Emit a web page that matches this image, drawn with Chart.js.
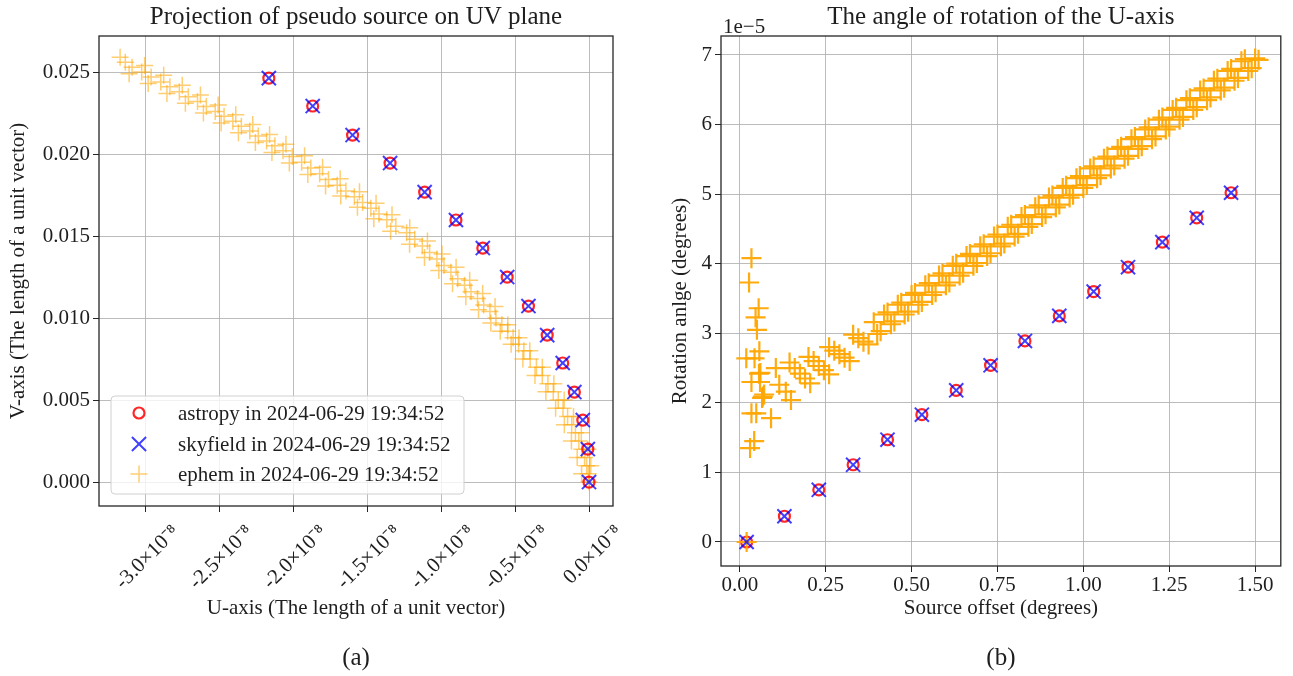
<!DOCTYPE html>
<html>
<head>
<meta charset="utf-8">
<script src="https://cdn.jsdelivr.net/npm/chart.js@4.4.0/dist/chart.umd.min.js"></script>
<style>
body{margin:0;background:#fff;width:1293px;height:676px;overflow:hidden;position:relative}
.box{position:absolute;top:0;height:676px}
#wa{left:0;width:650px}
#wb{left:650px;width:643px}
</style>
</head>
<body>
<div class="box" id="wa"><canvas id="chart-a"></canvas></div>
<div class="box" id="wb"><canvas id="chart-b"></canvas></div>
<script>
// ===== data, panel (a): U in units of 1e-8 =====
const U_TICKS=[-3.0,-2.5,-2.0,-1.5,-1.0,-0.5,0.0];
const V_TICKS=[0,0.005,0.010,0.015,0.020,0.025];
const ASTROPY_U=[0,-0.008,-0.042,-0.099,-0.178,-0.283,-0.410,-0.554,-0.719,-0.901,-1.113,-1.347,-1.601,-1.871,-2.168];
const ASTROPY_V=[0,0.00201,0.00378,0.00549,0.00726,0.00896,0.01073,0.01250,0.01427,0.01598,0.01768,0.01945,0.02116,0.02293,0.02463];
const SKYFIELD_U=[0,-0.008,-0.042,-0.099,-0.178,-0.283,-0.410,-0.554,-0.719,-0.901,-1.113,-1.347,-1.601,-1.871,-2.168];
const SKYFIELD_V=[0,0.00201,0.00378,0.00549,0.00726,0.00896,0.01073,0.01250,0.01427,0.01598,0.01768,0.01945,0.02116,0.02293,0.02463];
const EPHEM_UV=[
 [0,0],[-0.005,0.0005],[-0.016,0.0010],[-0.030,0.0015],[-0.048,0.0020],[-0.069,0.0025],[-0.092,0.0030],[-0.117,0.0035],
 [-0.145,0.0040],[-0.176,0.0045],[-0.208,0.0050],[-0.242,0.0055],[-0.278,0.0060],[-0.316,0.0065],[-0.356,0.0070],[-0.398,0.0075],
 [-0.441,0.0080],[-0.477,0.0084],[-0.514,0.0088],[-0.551,0.0092],[-0.590,0.0096],[-0.630,0.0100],[-0.671,0.0104],[-0.713,0.0108],
 [-0.755,0.0112],[-0.799,0.0116],[-0.843,0.0120],[-0.889,0.0124],[-0.935,0.0128],[-0.982,0.0132],[-1.030,0.0136],[-1.079,0.0140],
 [-1.129,0.0144],[-1.180,0.0148],[-1.235,0.0152],[-1.308,0.0156],[-1.369,0.0160],[-1.422,0.01635],[-1.477,0.0167],[-1.533,0.01705],
 [-1.589,0.0174],[-1.646,0.01775],[-1.705,0.0181],[-1.764,0.01845],[-1.824,0.0188],[-1.884,0.01915],[-1.946,0.0195],[-2.009,0.01985],
 [-2.072,0.0202],[-2.127,0.0205],[-2.183,0.0208],[-2.239,0.0211],[-2.297,0.0214],[-2.354,0.0217],[-2.412,0.0220],[-2.471,0.0223],
 [-2.531,0.0226],[-2.591,0.0229],[-2.651,0.0232],[-2.713,0.0235],[-2.774,0.0238],[-2.838,0.0241],[-2.900,0.0244],[-2.965,0.0247],
 [-3.029,0.0250],[-3.094,0.0253],[-3.140,0.0256],[-3.175,0.0259],
 [-0.050,0.0005],[-0.080,0.0015],[-0.119,0.0025],[-0.167,0.0035],[-0.226,0.0045],[-0.292,0.0055],[-0.366,0.0065],[-0.448,0.0075],
 [-0.527,0.0084],[-0.601,0.0092],[-0.665,0.0097],[-0.748,0.0105],[-0.834,0.0113],[-0.924,0.0121],[-1.017,0.0129],[-1.114,0.0137],
 [-1.215,0.0145],[-1.343,0.0153],[-1.457,0.01605],[-1.568,0.01675],[-1.681,0.01745],[-1.784,0.01805],[-1.904,0.01875],[-2.029,0.01945],
 [-2.147,0.0201],[-2.259,0.0207],[-2.374,0.0213],[-2.491,0.0219],[-2.611,0.0225],[-2.733,0.0231],[-2.858,0.0237],[-2.985,0.0243],[-3.114,0.0249],
 [0.012,0.0010],[-0.008,0.0020],[-0.052,0.0030],[-0.105,0.0040],[-0.168,0.0050],[-0.238,0.0060],[-0.316,0.0070],[-0.401,0.0080],
 [-0.474,0.0088],[-0.550,0.0096],[-0.636,0.0107],[-0.720,0.0115],[-0.808,0.0123],[-0.900,0.0131],[-0.995,0.0139],[-1.094,0.0147],
 [-1.214,0.0155],[-1.334,0.0163],[-1.442,0.0170],[-1.554,0.0177],[-1.685,0.0185],[-1.804,0.0192],[-1.926,0.0199],[-2.052,0.0206],
 [-2.163,0.0212],[-2.277,0.0218],[-2.392,0.0224],[-2.511,0.0230],[-2.631,0.0236],[-2.754,0.0242],[-2.880,0.0248],[-3.009,0.0254]
];

// ===== data, panel (b): rotation in units of 1e-5 =====
const OFF_TICKS=[0,0.25,0.5,0.75,1.0,1.25,1.5];
const ROT_TICKS=[0,1,2,3,4,5,6,7];
const OFFSET=[0.02,0.13,0.23,0.33,0.43,0.53,0.63,0.73,0.83,0.93,1.03,1.13,1.23,1.33,1.43];
const ROT_ASTROPY=[0,0.37,0.75,1.11,1.47,1.83,2.18,2.54,2.89,3.25,3.60,3.95,4.31,4.66,5.02];
const ROT_SKYFIELD=[0,0.37,0.75,1.11,1.47,1.83,2.18,2.54,2.89,3.25,3.60,3.95,4.31,4.66,5.02];
const EPHEM_ROT=[
 [0.02,0],
 [0.034,4.08],[0.027,3.73],[0.055,3.36],[0.046,3.23],[0.050,3.05],[0.057,2.74],[0.019,2.64],[0.043,2.64],[0.056,2.42],
 [0.034,2.30],[0.059,2.30],[0.067,2.09],[0.034,1.85],[0.048,1.85],[0.091,1.78],[0.042,1.45],[0.030,1.35],[0.105,2.50],
 [0.115,2.26],[0.134,2.16],[0.149,2.04],[0.065,2.07],[0.060,2.43],[0.071,2.12],
 [0.145,2.58],[0.160,2.50],[0.175,2.42],[0.190,2.35],[0.205,2.28],
 [0.200,2.66],[0.215,2.60],[0.230,2.53],[0.245,2.47],[0.260,2.41],
 [0.260,2.80],[0.275,2.75],[0.290,2.70],[0.305,2.65],[0.320,2.60],
 [0.330,2.98],[0.345,2.93],[0.360,2.88],[0.375,2.84],
 [0.39,3.16],[0.41,3.03],[0.43,3.30],[0.45,3.17],[0.47,3.44],[0.49,3.31],[0.51,3.58],[0.53,3.45],[0.55,3.72],[0.57,3.59],
 [0.59,3.86],[0.61,3.73],[0.63,4.00],[0.65,3.87],[0.67,4.14],[0.69,4.01],[0.71,4.28],[0.73,4.15],[0.75,4.42],[0.77,4.29],
 [0.79,4.56],[0.81,4.43],[0.83,4.70],[0.85,4.57],[0.87,4.84],[0.89,4.71],[0.91,4.98],[0.93,4.85],[0.95,5.12],[0.97,4.99],
 [0.99,5.26],[1.01,5.13],[1.03,5.40],[1.05,5.27],[1.07,5.54],[1.09,5.41],[1.11,5.68],[1.13,5.55],[1.15,5.82],[1.17,5.69],
 [1.19,5.96],[1.21,5.83],[1.23,6.10],[1.25,5.97],[1.27,6.24],[1.29,6.11],[1.31,6.38],[1.33,6.25],[1.35,6.52],[1.37,6.39],
 [1.39,6.66],[1.41,6.53],[1.43,6.80],[1.45,6.67],[1.47,6.94],[1.49,6.81],[1.50,6.95],[1.51,6.93],
 [0.40,2.99],[0.42,3.27],[0.44,3.13],[0.46,3.41],[0.48,3.27],[0.50,3.55],[0.52,3.41],[0.54,3.69],[0.56,3.55],[0.58,3.83],
 [0.60,3.69],[0.62,3.97],[0.64,3.83],[0.66,4.11],[0.68,3.97],[0.70,4.25],[0.72,4.11],[0.74,4.39],[0.76,4.25],[0.78,4.53],
 [0.80,4.39],[0.82,4.67],[0.84,4.53],[0.86,4.81],[0.88,4.67],[0.90,4.95],[0.92,4.81],[0.94,5.09],[0.96,4.95],[0.98,5.23],
 [1.00,5.09],[1.02,5.37],[1.04,5.23],[1.06,5.51],[1.08,5.37],[1.10,5.65],[1.12,5.51],[1.14,5.79],[1.16,5.65],[1.18,5.93],
 [1.20,5.79],[1.22,6.07],[1.24,5.93],[1.26,6.21],[1.28,6.07],[1.30,6.35],[1.32,6.21],[1.34,6.49],[1.36,6.35],[1.38,6.63],
 [1.40,6.49],[1.42,6.77],[1.44,6.63],[1.46,6.91],[1.48,6.77]
];

const LEGEND_LABELS=['astropy in 2024-06-29 19:34:52','skyfield in 2024-06-29 19:34:52','ephem in 2024-06-29 19:34:52'];

// ===== styles =====
const COL={red:'rgba(255,0,0,0.85)',blue:'rgba(0,0,255,0.75)',orangeLight:'rgba(255,165,0,0.55)',orange:'rgba(255,165,0,0.95)',grid:'rgba(176,176,176,0.85)',text:'#1e1e1e',frame:'#262626'};
const SERIF="'Liberation Serif','Times New Roman',serif";
Chart.defaults.font.family=SERIF;Chart.defaults.font.size=21;Chart.defaults.color=COL.text;

const STY_ASTROPY={pointStyle:'circle',pointRadius:5.5,pointBorderWidth:2.2,pointBorderColor:COL.red,pointBackgroundColor:'rgba(0,0,0,0)'};
const STY_SKY={pointStyle:'crossRot',pointRadius:10,pointBorderWidth:2,pointBorderColor:COL.blue,pointBackgroundColor:COL.blue};
const STY_EPH_A={pointStyle:'cross',pointRadius:8.5,pointBorderWidth:1.5,pointBorderColor:COL.orangeLight,pointBackgroundColor:COL.orangeLight};
const STY_EPH_B={pointStyle:'cross',pointRadius:10,pointBorderWidth:2.2,pointBorderColor:COL.orange,pointBackgroundColor:COL.orange};

const framePlugin={id:'frame',afterDatasetsDraw(c){
  const {ctx,chartArea:a}=c;ctx.save();ctx.strokeStyle=COL.frame;ctx.lineWidth=1.3;
  ctx.strokeRect(a.left,a.top,a.right-a.left,a.bottom-a.top);ctx.restore();
}};

const legendPlugin={id:'boxLegend',afterDraw(c){
  const {ctx,chartArea:a}=c;const x=a.left+12,y=a.bottom-110,w=353,h=98;
  ctx.save();
  ctx.beginPath();ctx.roundRect(x,y,w,h,4);ctx.fillStyle='rgba(255,255,255,0.8)';ctx.fill();
  ctx.strokeStyle='#d0d0d0';ctx.lineWidth=1;ctx.stroke();
  const stys=[STY_ASTROPY,STY_SKY,STY_EPH_A],rows=[17,48,78];
  stys.forEach((s,i)=>{
    ctx.strokeStyle=s.pointBorderColor;ctx.fillStyle=s.pointBackgroundColor;ctx.lineWidth=s.pointBorderWidth;
    Chart.helpers.drawPoint(ctx,{pointStyle:s.pointStyle,radius:s.pointRadius,borderWidth:s.pointBorderWidth,rotation:0},x+28,y+rows[i]);
    ctx.fillStyle=COL.text;ctx.font='21px '+SERIF;ctx.textBaseline='middle';ctx.textAlign='left';
    ctx.fillText(LEGEND_LABELS[i],x+67,y+rows[i]+1);
  });
  ctx.restore();
}};

const offsetLabelPlugin={id:'offsetLabel',afterDraw(c){
  const {ctx,chartArea:a}=c;ctx.save();ctx.fillStyle=COL.text;ctx.font='21px '+SERIF;
  ctx.textAlign='left';ctx.textBaseline='alphabetic';ctx.fillText('1e\u22125',a.left+2,a.top-3);ctx.restore();
}};

function gridOpts(){return {color:COL.grid,lineWidth:1,tickColor:COL.frame,tickLength:6,drawTicks:true};}
function ticksFrom(arr){return axis=>{axis.ticks=arr.map(v=>({value:v}));};}

// ===== (a) projection on UV plane =====
new Chart(document.getElementById('chart-a'),{
  type:'scatter',
  data:{datasets:[
    {label:LEGEND_LABELS[1],data:SKYFIELD_U.map((u,i)=>({x:u,y:SKYFIELD_V[i]})),...STY_SKY,order:0},
    {label:LEGEND_LABELS[0],data:ASTROPY_U.map((u,i)=>({x:u,y:ASTROPY_V[i]})),...STY_ASTROPY,order:1},
    {label:LEGEND_LABELS[2],data:EPHEM_UV.map(p=>({x:p[0],y:p[1]})),...STY_EPH_A,order:2}
  ]},
  options:{responsive:true,maintainAspectRatio:false,animation:false,events:[],
    layout:{padding:{left:0,right:37,top:0,bottom:0}},
    plugins:{legend:{display:false},tooltip:{enabled:false},
      title:{display:true,text:'Projection of pseudo source on UV plane',fullSize:false,font:{size:25,weight:'normal'},color:COL.text,padding:{top:2,bottom:4}},
      subtitle:{display:true,text:'(a)',position:'bottom',fullSize:false,font:{size:25,weight:'normal'},color:COL.text,padding:{top:18,bottom:3}}},
    scales:{
      x:{type:'linear',min:-3.318,max:0.1625,afterBuildTicks:ticksFrom(U_TICKS),afterFit:s=>{s.height=119;},
        grid:gridOpts(),border:{display:false},
        ticks:{autoSkip:false,minRotation:45,maxRotation:45,padding:8,labelOffset:30,callback:v=>v.toFixed(1)+'\u00d710\u207b\u2078'},
        title:{display:true,text:'U-axis (The length of a unit vector)',padding:{top:0,bottom:4}}},
      y:{type:'linear',min:-0.00146,max:0.0272,afterBuildTicks:ticksFrom(V_TICKS),afterFit:s=>{s.width=99;},
        grid:gridOpts(),border:{display:false},
        ticks:{padding:3,callback:v=>v.toFixed(3)},
        title:{display:true,text:'V-axis (The length of a unit vector)',padding:{top:6,bottom:0}}}
    }
  },
  plugins:[framePlugin,legendPlugin]
});

// ===== (b) rotation of the U-axis =====
new Chart(document.getElementById('chart-b'),{
  type:'scatter',
  data:{datasets:[
    {label:'skyfield',data:OFFSET.map((o,i)=>({x:o,y:ROT_SKYFIELD[i]})),...STY_SKY,order:0},
    {label:'ephem',data:EPHEM_ROT.map(p=>({x:p[0],y:p[1]})),...STY_EPH_B,order:1},
    {label:'astropy',data:OFFSET.map((o,i)=>({x:o,y:ROT_ASTROPY[i]})),...STY_ASTROPY,order:2}
  ]},
  options:{responsive:true,maintainAspectRatio:false,animation:false,events:[],
    layout:{padding:{left:0,right:5,top:0,bottom:0}},
    plugins:{legend:{display:false},tooltip:{enabled:false},
      title:{display:true,text:'The angle of rotation of the U-axis',fullSize:false,font:{size:25,weight:'normal'},color:COL.text,padding:{top:2,bottom:4}},
      subtitle:{display:true,text:'(b)',position:'bottom',fullSize:false,font:{size:25,weight:'normal'},color:COL.text,padding:{top:18,bottom:3}}},
    scales:{
      x:{type:'linear',min:-0.0546,max:1.5747,afterBuildTicks:ticksFrom(OFF_TICKS),afterFit:s=>{s.height=59;},
        grid:gridOpts(),border:{display:false},
        ticks:{autoSkip:false,maxRotation:0,padding:1,callback:v=>v.toFixed(2)},
        title:{display:true,text:'Source offset (degrees)',padding:{top:0,bottom:4}}},
      y:{type:'linear',min:-0.345,max:7.273,afterBuildTicks:ticksFrom(ROT_TICKS),afterFit:s=>{s.width=71;},
        grid:gridOpts(),border:{display:false},
        ticks:{padding:3,callback:v=>String(v)},
        title:{display:true,text:'Rotation anlge (degrees)',padding:{top:18,bottom:0}}}
    }
  },
  plugins:[framePlugin,offsetLabelPlugin]
});
</script>
</body>
</html>
